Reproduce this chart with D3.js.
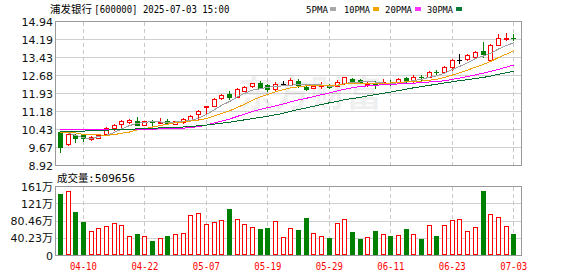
<!DOCTYPE html>
<html><head><meta charset="utf-8">
<script src="https://cdn.jsdelivr.net/npm/d3@7/dist/d3.min.js"></script>
<style>html,body{margin:0;padding:0;background:#fff;overflow:hidden}</style>
</head><body><svg id="c" width="578" height="276"></svg>
<script>
const dates = ["2025-04-07","2025-04-08","2025-04-09","2025-04-10","2025-04-11","2025-04-14","2025-04-15","2025-04-16","2025-04-17","2025-04-18",
"2025-04-21","2025-04-22","2025-04-23","2025-04-24","2025-04-25","2025-04-28","2025-04-29","2025-04-30","2025-05-06","2025-05-07",
"2025-05-08","2025-05-09","2025-05-12","2025-05-13","2025-05-14","2025-05-15","2025-05-16","2025-05-19","2025-05-20","2025-05-21",
"2025-05-22","2025-05-23","2025-05-26","2025-05-27","2025-05-28","2025-05-29","2025-05-30","2025-06-03","2025-06-04","2025-06-05",
"2025-06-06","2025-06-09","2025-06-10","2025-06-11","2025-06-12","2025-06-13","2025-06-16","2025-06-17","2025-06-18","2025-06-19",
"2025-06-20","2025-06-23","2025-06-24","2025-06-25","2025-06-26","2025-06-27","2025-06-30","2025-07-01","2025-07-02","2025-07-03"];
const open = [10.31,9.83,10.19,10.21,10.04,10.07,10.24,10.47,10.66,10.73,10.79,10.62,10.75,10.70,10.80,10.66,10.73,10.82,11.08,11.40,
11.42,11.74,11.91,11.80,12.05,12.25,12.38,12.27,12.10,12.31,12.30,12.47,12.22,12.17,12.25,12.29,12.26,12.36,12.54,12.49,
12.29,12.35,12.35,12.38,12.40,12.58,12.45,12.63,12.63,12.83,12.82,13.03,13.35,13.38,13.46,13.69,13.35,13.96,14.22,14.27];
const high = [10.31,10.28,10.22,10.25,10.15,10.25,10.53,10.66,10.82,10.88,10.93,10.78,10.81,10.89,10.88,10.78,10.89,11.02,11.23,11.42,
11.73,11.93,12.02,12.16,12.24,12.38,12.45,12.33,12.40,12.47,12.58,12.54,12.26,12.30,12.40,12.33,12.49,12.62,12.59,12.53,
12.42,12.45,12.52,12.49,12.56,12.63,12.69,12.71,12.89,12.92,13.06,13.37,13.57,13.59,13.70,14.08,14.01,14.40,14.48,14.40];
const low = [9.48,9.78,9.91,9.94,10.00,10.05,10.20,10.41,10.48,10.71,10.60,10.60,10.62,10.69,10.68,10.64,10.69,10.80,10.84,11.06,
11.40,11.72,11.68,11.77,12.03,12.22,12.15,12.04,12.07,12.29,12.28,12.21,12.06,12.15,12.17,12.17,12.24,12.34,12.42,12.36,
12.25,12.15,12.33,12.29,12.36,12.42,12.36,12.49,12.61,12.71,12.78,12.90,13.21,13.32,13.44,13.46,13.30,13.95,14.16,14.16];
const close = [9.70,10.24,10.06,10.07,10.12,10.19,10.50,10.63,10.80,10.84,10.62,10.76,10.72,10.75,10.69,10.76,10.87,10.99,11.21,11.42,
11.70,11.87,11.77,12.13,12.21,12.35,12.17,12.10,12.31,12.31,12.50,12.27,12.13,12.25,12.28,12.21,12.39,12.60,12.45,12.38,
12.31,12.32,12.39,12.36,12.52,12.47,12.64,12.61,12.82,12.81,13.04,13.35,13.35,13.52,13.67,13.57,13.94,14.23,14.24,14.25];
// volume in 万手
const volume = [144.4,151.5,102.5,78.1,56.0,63.9,68.6,75.0,70.2,46.5,49.7,46.5,33.1,40.2,45.0,49.7,52.1,94.7,99.4,73.4,
77.3,82.8,109.6,85.2,73.4,66.3,62.3,64.6,80.5,43.3,63.9,59.2,88.3,52.1,45.0,40.2,75.7,85.2,54.4,37.9,
42.6,56.8,49.7,45.7,47.3,61.5,51.3,38.6,71.0,45.7,71.0,82.8,85.2,56.8,66.3,149.8,97.0,89.9,68.6,50.97];
const ma5 = [10.33,10.28,10.18,10.08,10.04,10.14,10.19,10.30,10.45,10.59,10.68,10.73,10.75,10.74,10.71,10.74,10.76,10.81,10.90,11.05,
11.24,11.44,11.59,11.78,11.94,12.07,12.13,12.19,12.23,12.25,12.28,12.30,12.30,12.29,12.29,12.23,12.25,12.35,12.39,12.41,
12.43,12.41,12.37,12.35,12.38,12.41,12.48,12.52,12.61,12.67,12.78,12.93,13.07,13.21,13.39,13.49,13.61,13.79,13.93,14.05];
const ma10 = [10.30,10.29,10.28,10.22,10.21,10.20,10.18,10.21,10.27,10.32,10.41,10.46,10.53,10.59,10.65,10.71,10.74,10.78,10.82,10.88,
10.99,11.10,11.20,11.34,11.49,11.65,11.78,11.89,12.00,12.09,12.17,12.21,12.25,12.26,12.27,12.25,12.28,12.33,12.34,12.35,
12.33,12.33,12.36,12.37,12.39,12.42,12.44,12.45,12.48,12.53,12.60,12.70,12.80,12.91,13.03,13.14,13.27,13.43,13.57,13.72];
const ma20 = [10.43,10.43,10.43,10.43,10.43,10.43,10.43,10.43,10.43,10.43,10.43,10.43,10.44,10.45,10.45,10.46,10.48,10.51,10.55,10.60,
10.70,10.78,10.86,10.97,11.07,11.18,11.26,11.34,11.41,11.49,11.58,11.66,11.73,11.80,11.88,11.95,12.03,12.11,12.17,12.22,
12.25,12.27,12.30,12.31,12.33,12.34,12.36,12.39,12.41,12.44,12.46,12.52,12.58,12.64,12.71,12.78,12.86,12.94,13.03,13.12];
const ma30 = [10.35,10.35,10.35,10.36,10.37,10.38,10.40,10.41,10.42,10.43,10.45,10.47,10.48,10.49,10.50,10.52,10.53,10.55,10.58,10.61,
10.65,10.69,10.73,10.78,10.83,10.88,10.93,10.98,11.04,11.10,11.19,11.26,11.33,11.40,11.47,11.54,11.60,11.67,11.72,11.77,
11.83,11.88,11.94,11.99,12.05,12.11,12.17,12.22,12.27,12.32,12.37,12.42,12.47,12.51,12.56,12.60,12.66,12.73,12.80,12.86];
const priceTicks = [8.92,9.6725,10.425,11.1775,11.93,12.6825,13.435,14.1875,14.94];
const priceTickLabels = ["8.92","9.67","10.43","11.18","11.93","12.68","13.43","14.19","14.94"];
const volTicks = [0,40.23,80.46,120.69,160.92];
const volTickLabels = ["0","40.23万","80.46万","121万","161万"];
const xTickLabels = ["04-10","04-22","05-07","05-19","05-29","06-11","06-23","07-03"];
const maNames = ["5PMA","10PMA","20PMA","30PMA"];
const titleName = "浦发银行";
const titleInfo = "[600000] 2025-07-03 15:00";
const volTitle = "成交量";
const volLast = ":509656";

const UP="#ff0000", DOWN="#008000", FLAT="#000000";
const maColors = ["#a0a0a0","#f0a000","#ff00ff","#006e2e"];
const legendColors = ["#a8a8a8","#f5a400","#ff33ff","#0a7a3a"];

const svg = d3.select("#c");
const L=55.5, R=521.5, PT=21.5, PB=165.5, VT=186.5, VB=255.5;

const x = d3.scaleBand().domain(dates).range([56.5,517.6]).padding(0);
const cx = d => x(d) + x.bandwidth()/2;
const y = d3.scaleLinear().domain([8.92,14.94]).range([PB,PT]);
const yv = d3.scaleLinear().domain([0,160.92]).range([VB,VT]);
const crisp = v => Math.round(v-0.5)+0.5;

const tickDates = xTickLabels.map(s=>"2025-"+s);

// gridlines
const grid = svg.append("g").attr("shape-rendering","crispEdges");
grid.selectAll(".hp").data(priceTicks).join("line")
  .attr("x1",L).attr("x2",R).attr("y1",d=>crisp(y(d))).attr("y2",d=>crisp(y(d)))
  .attr("stroke","#d0d0d0");
grid.selectAll(".hv").data(volTicks).join("line")
  .attr("x1",L).attr("x2",R).attr("y1",d=>crisp(yv(d))).attr("y2",d=>crisp(yv(d)))
  .attr("stroke","#d0d0d0");
[[PT,PB],[VT,VB]].forEach(([t,b])=>{
  grid.append("g").selectAll("line").data(tickDates).join("line")
    .attr("x1",d=>crisp(cx(d))).attr("x2",d=>crisp(cx(d))).attr("y1",t).attr("y2",b)
    .attr("stroke","#c8c8c8").attr("stroke-dasharray","4,3");
});

// watermark
svg.append("text").attr("x",238).attr("y",107).text("东方财富")
  .attr("font-family","Noto Sans CJK SC").attr("font-weight","bold").attr("font-size",36)
  .attr("fill","#000").attr("fill-opacity",0.065);

// candles
const data = dates.map((d,i)=>({d,o:open[i],h:high[i],l:low[i],c:close[i],v:volume[i]}));
const col = p => p.c>p.o?UP:(p.c<p.o?DOWN:FLAT);
const cg = svg.append("g").attr("shape-rendering","crispEdges");
data.forEach(p=>{
  const left = Math.round(cx(p.d)-2.5);
  const color = col(p);
  const wx = left+2.5;
  cg.append("line").attr("x1",wx).attr("x2",wx)
    .attr("y1",Math.round(y(p.h))).attr("y2",Math.round(y(p.l))+1).attr("stroke",color);
  if(color===UP){
    const top=Math.round(y(p.c)), bot=Math.round(y(p.o));
    cg.append("rect").attr("x",left+0.5).attr("y",top+0.5).attr("width",4)
      .attr("height",Math.max(bot-top,1)).attr("fill","#fff").attr("stroke",UP);
  } else if(color===DOWN){
    const top=Math.round(y(p.o)), bot=Math.round(y(p.c));
    cg.append("rect").attr("x",left).attr("y",top).attr("width",5)
      .attr("height",Math.max(bot-top+1,1)).attr("fill",DOWN);
  } else {
    const yy=Math.round(y(p.o))+0.5;
    cg.append("line").attr("x1",left).attr("x2",left+5).attr("y1",yy).attr("y2",yy).attr("stroke",FLAT);
  }
  // volume
  const vt = Math.round(yv(p.v));
  if(color===DOWN){
    cg.append("rect").attr("x",left).attr("y",vt).attr("width",5).attr("height",255-vt).attr("fill",DOWN);
  } else {
    cg.append("rect").attr("x",left+0.5).attr("y",vt+0.5).attr("width",4).attr("height",254-vt)
      .attr("fill","#fff").attr("stroke",UP);
  }
});

// MA lines
const line = d3.line().x((d,i)=>cx(dates[i])).y(d=>y(d));
[ma5,ma10,ma20,ma30].forEach((arr,k)=>{
  svg.append("path").datum(arr).attr("d",line).attr("fill","none")
    .attr("stroke",maColors[k]).attr("stroke-width",1).attr("shape-rendering","crispEdges");
});

// borders
svg.append("rect").attr("x",L).attr("y",PT).attr("width",R-L).attr("height",PB-PT)
  .attr("fill","none").attr("stroke","#999").attr("shape-rendering","crispEdges");
svg.append("rect").attr("x",L).attr("y",VT).attr("width",R-L).attr("height",VB-VT)
  .attr("fill","none").attr("stroke","#999").attr("shape-rendering","crispEdges");

// y axes
const fontAx = "'DejaVu Sans','Noto Sans CJK SC',sans-serif";
const ay = svg.append("g").attr("transform","translate(53,0)")
  .call(d3.axisLeft(y).tickValues(priceTicks).tickFormat((d,i)=>priceTickLabels[i]).tickSize(0).tickPadding(0));
const av = svg.append("g").attr("transform","translate(53,0)")
  .call(d3.axisLeft(yv).tickValues(volTicks).tickFormat((d,i)=>volTickLabels[i]).tickSize(0).tickPadding(0));
[ay,av].forEach(a=>{
  a.select(".domain").remove();
  a.selectAll("text").attr("font-family",fontAx).attr("font-size",11).attr("fill","#111");
});

// x axis
const ax = svg.append("g").attr("transform","translate(0,260)")
  .call(d3.axisBottom(x).tickValues(tickDates).tickFormat((d,i)=>xTickLabels[i]).tickSize(0).tickPadding(0));
ax.select(".domain").remove();
ax.selectAll("text").attr("font-family","'DejaVu Sans Mono',monospace").attr("font-size",11)
  .attr("fill","#ff0000").attr("dy","0.71em").attr("y",2)
  .attr("textLength",27).attr("lengthAdjust","spacingAndGlyphs");

// title
svg.append("text").attr("x",50).attr("y",13).text(titleName)
  .attr("font-family","Noto Sans CJK SC").attr("font-size",10.5).attr("fill","#000");
svg.append("text").attr("x",94.3).attr("y",13).text(titleInfo)
  .attr("font-family","'DejaVu Sans Mono',monospace").attr("font-size",11).attr("fill","#000")
  .attr("textLength",135).attr("lengthAdjust","spacingAndGlyphs");

// legend
const legX = [306,344,385,427], legW=[22,26,27,26], sqX=[330,373,415,456];
maNames.forEach((n,k)=>{
  svg.append("text").attr("x",legX[k]).attr("y",13).text(n)
    .attr("font-family","'DejaVu Sans Mono',monospace").attr("font-size",9.5).attr("fill","#000")
    .attr("textLength",legW[k]).attr("lengthAdjust","spacingAndGlyphs");
  svg.append("rect").attr("x",sqX[k]).attr("y",7).attr("width",6).attr("height",4).attr("fill",legendColors[k]);
});

// volume title
svg.append("text").attr("x",57).attr("y",182).text(volTitle)
  .attr("font-family","Noto Sans CJK SC").attr("font-size",10.5).attr("fill","#000");
svg.append("text").attr("x",88).attr("y",182).text(volLast)
  .attr("font-family","'DejaVu Sans Mono',monospace").attr("font-size",11).attr("fill","#000")
  .attr("textLength",47).attr("lengthAdjust","spacingAndGlyphs");
</script></body></html>
